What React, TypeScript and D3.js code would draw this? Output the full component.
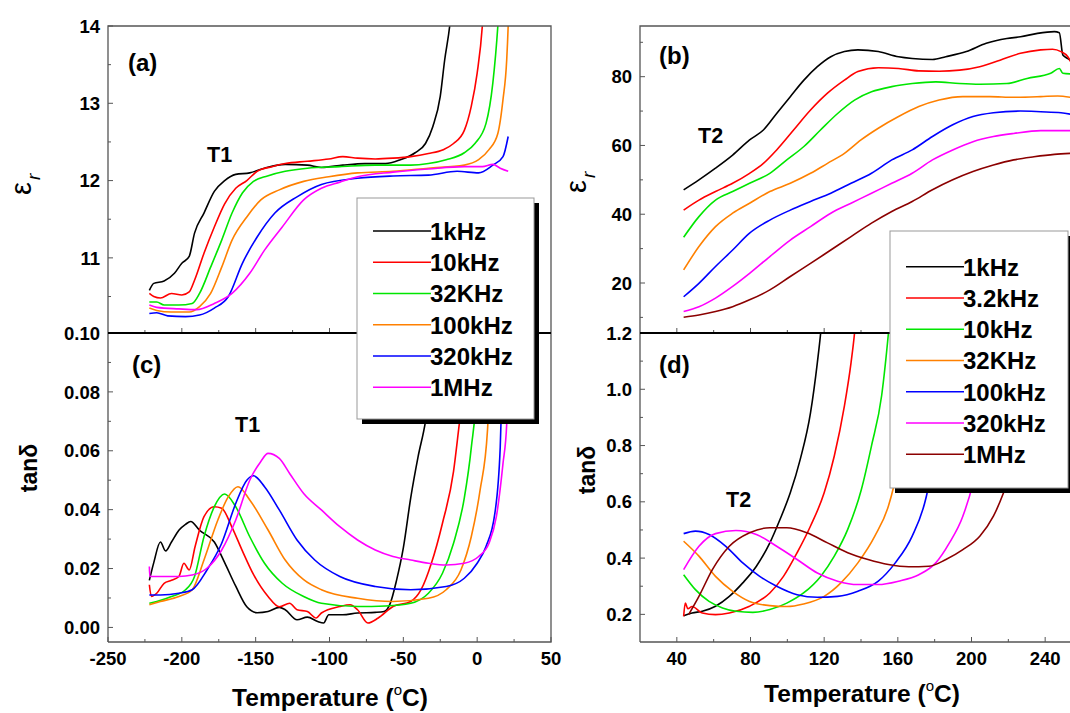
import React from 'react';
import * as d3 from 'd3';

const W = 1070;
const H = 713;
const FONT = '"Liberation Sans", Arial, Helvetica, sans-serif';

// ---- data: [temperature °C, value] ----
// (a) epsilon_r, low temperature
const epsLow1k: [number, number][] = [[-222,10.58],[-219,10.67],[-212,10.7],[-205,10.8],[-200,10.93],[-195,11.02],[-191.4,11.32],[-185,11.58],[-178,11.86],[-171,12.0],[-163.5,12.08],[-154,12.1],[-144,12.16],[-130,12.21],[-115,12.2],[-105.5,12.17],[-91,12.2],[-76,12.22],[-62,12.22],[-52,12.27],[-42,12.36],[-35,12.48],[-30,12.7],[-25,13.09],[-22,13.56],[-18.6,14],[-17,14.3]];
const epsLow10k: [number, number][] = [[-222,10.54],[-219,10.5],[-214.5,10.48],[-207,10.54],[-200,10.52],[-195,10.56],[-191.4,10.71],[-185,11.06],[-178,11.4],[-171,11.7],[-163.5,11.9],[-156,12.0],[-149,12.12],[-139,12.18],[-130,12.22],[-115,12.25],[-100.5,12.28],[-91,12.31],[-81,12.29],[-69,12.28],[-57,12.29],[-45,12.31],[-33,12.35],[-23,12.4],[-16,12.48],[-8.7,12.65],[-4,12.96],[0,13.39],[3.5,14],[4.5,14.3]];
const epsLow32k: [number, number][] = [[-222,10.43],[-217,10.43],[-212,10.39],[-202,10.39],[-193,10.41],[-188,10.54],[-180.5,10.88],[-173,11.23],[-166,11.58],[-159,11.84],[-151.5,11.99],[-142,12.06],[-130,12.12],[-115,12.16],[-93,12.18],[-69,12.2],[-45,12.2],[-33,12.22],[-21,12.27],[-8.7,12.36],[-1.5,12.48],[6,12.74],[10.6,13.26],[14,14],[15,14.3]];
const epsLow100k: [number, number][] = [[-222,10.35],[-217,10.32],[-207,10.3],[-195,10.3],[-188,10.37],[-180.5,10.54],[-173,10.88],[-166,11.23],[-156,11.53],[-146.5,11.75],[-134,11.88],[-117.5,11.99],[-100.5,12.05],[-81,12.1],[-57,12.12],[-33,12.16],[-8.7,12.2],[1,12.27],[8,12.4],[14,12.61],[17.5,13.05],[20,13.56],[21,14],[21.5,14.3]];
const epsLow320k: [number, number][] = [[-222,10.28],[-217,10.29],[-209.6,10.25],[-197.5,10.24],[-188,10.26],[-178,10.35],[-168.5,10.5],[-159,10.93],[-149,11.27],[-137,11.58],[-122,11.79],[-105.5,11.95],[-81,12.03],[-57,12.06],[-33,12.07],[-13.6,12.12],[1,12.1],[10.6,12.2],[17.5,12.31],[21,12.57]];
const epsLow1M: [number, number][] = [[-222,10.39],[-217,10.36],[-202,10.34],[-190,10.33],[-178,10.41],[-166,10.54],[-154,10.8],[-144,11.1],[-132,11.4],[-117.5,11.75],[-105.5,11.9],[-93,11.98],[-81,12.05],[-57,12.11],[-33,12.15],[-8.7,12.18],[3.5,12.18],[10.6,12.21],[15.6,12.16],[21,12.12]];

// (c) tan delta, low temperature
const tanLow1k: [number, number][] = [[-222,0.016],[-219,0.022],[-214.5,0.029],[-211,0.026],[-207,0.029],[-202,0.033],[-197.5,0.035],[-194,0.036],[-188,0.033],[-178,0.029],[-171,0.022],[-163.5,0.014],[-156,0.007],[-149,0.005],[-141.6,0.0054],[-134,0.0068],[-130,0.006],[-122,0.0026],[-115,0.0035],[-108,0.002],[-104,0.0015],[-100.5,0.0043],[-91,0.0043],[-81,0.0049],[-69,0.0051],[-63,0.0054],[-59,0.008],[-54.6,0.016],[-50,0.027],[-45,0.044],[-40,0.058],[-35,0.07],[-31,0.085],[-28,0.1],[-27,0.106]];
const tanLow10k: [number, number][] = [[-222,0.0145],[-220.6,0.0105],[-217,0.0116],[-212,0.015],[-207,0.016],[-202,0.0173],[-198.6,0.0218],[-195,0.0195],[-191,0.0275],[-185,0.0376],[-178,0.041],[-173,0.0405],[-166,0.034],[-159,0.026],[-151.5,0.018],[-141.6,0.0105],[-134,0.007],[-127,0.0082],[-122,0.006],[-115,0.0054],[-109,0.0032],[-105.5,0.0049],[-93,0.0071],[-86,0.0077],[-81,0.006],[-74,0.0015],[-67,0.0032],[-57,0.0071],[-45,0.0088],[-38,0.0128],[-31,0.0218],[-23.5,0.0354],[-16,0.053],[-12.6,0.067],[-8.7,0.084],[-6,0.1],[-5,0.106]];
const tanLow32k: [number, number][] = [[-222,0.0082],[-217,0.0088],[-207,0.0105],[-197.5,0.0128],[-191.4,0.0173],[-185,0.0308],[-178,0.041],[-171,0.0453],[-163.5,0.041],[-154,0.0308],[-144,0.0218],[-132,0.015],[-117.5,0.0105],[-105.5,0.0082],[-81,0.0071],[-62,0.0073],[-45,0.0082],[-33,0.0116],[-23.5,0.0184],[-16,0.0286],[-8.7,0.044],[-4,0.061],[0,0.084],[1,0.1],[1.5,0.106]];
const tanLow100k: [number, number][] = [[-222,0.0077],[-214.5,0.0088],[-202,0.0105],[-193,0.0128],[-185,0.0229],[-175.6,0.0365],[-168.5,0.0444],[-162,0.0478],[-154,0.0433],[-141.6,0.0331],[-130,0.0229],[-117.5,0.0162],[-105.5,0.0128],[-81,0.0099],[-57,0.0088],[-33,0.0099],[-21,0.0128],[-11,0.0195],[-4,0.0308],[2,0.0467],[7,0.067],[9.5,0.1],[10,0.106]];
const tanLow320k: [number, number][] = [[-222,0.011],[-214.5,0.011],[-202,0.0116],[-193,0.0128],[-183,0.0195],[-173,0.0286],[-163.5,0.0421],[-156,0.05],[-151.5,0.0515],[-144,0.0478],[-134,0.0399],[-122,0.0297],[-110,0.0229],[-93,0.0173],[-69,0.0139],[-45,0.0128],[-21,0.0139],[-8.7,0.0167],[0,0.0218],[6,0.0275],[12,0.0388],[15.6,0.061],[18,0.1],[18.5,0.106]];
const tanLow1M: [number, number][] = [[-222,0.0207],[-221.7,0.0173],[-214.5,0.0173],[-202,0.0173],[-193,0.0178],[-183,0.0201],[-173,0.0263],[-163.5,0.0365],[-154,0.05],[-146.6,0.0563],[-141.6,0.0591],[-134,0.0574],[-127,0.0523],[-117.5,0.0455],[-105.5,0.0399],[-93,0.0342],[-81,0.0297],[-69,0.0263],[-57,0.0241],[-45,0.0229],[-33,0.0218],[-21,0.0212],[-8.7,0.0218],[1,0.0241],[8,0.0286],[13,0.0376],[17.5,0.0557],[20,0.069],[21.5,0.1],[22,0.106]];

// (b) epsilon_r, high temperature
const epsHigh1k: [number, number][] = [[43.7,47.1],[52,50],[61,53.4],[70.3,57.2],[79.5,61.6],[87,64.5],[94.2,69.3],[101.6,74.2],[109,79],[116.3,82.9],[123.6,85.8],[131,87.3],[138.3,87.8],[149.4,87.3],[160.4,85.8],[167.8,85.3],[178.8,85],[186,85.8],[197.2,87.3],[208,89.7],[219.2,91.1],[226.6,91.6],[235.8,92.6],[245,93.1],[247.7,92.8],[249.6,86.3],[252.3,85.3],[253.8,84.8]];
const epsHigh3k: [number, number][] = [[43.7,41.2],[52,44.1],[61,46.6],[70.3,49],[79.5,51.9],[87,54.8],[94.2,58.7],[103.4,64.5],[112.6,70.3],[121.8,75.2],[131,79],[138.3,81.5],[149.4,82.6],[160.4,82.4],[171.4,81.7],[182.4,81.6],[193.5,81.9],[204.5,82.9],[215.5,84.8],[226.6,86.8],[237.6,87.8],[244,88],[248.6,87.3],[252.3,85.8],[253.8,84.4]];
const epsHigh10k: [number, number][] = [[43.7,33.3],[52,39.3],[61,44.1],[70.3,46.6],[79.5,49],[90.5,51.9],[99.7,55.8],[109,59.7],[118,64.5],[127.3,69.3],[136.5,73.2],[145.7,75.6],[156.7,77.1],[167.8,78],[180.6,78.5],[193.5,78],[204.5,77.8],[219.2,78],[230.2,79.5],[243,81],[247.7,82.4],[249.6,81],[253.8,80.8]];
const epsHigh32k: [number, number][] = [[43.7,23.8],[52,30.6],[61,36.4],[70.3,40.3],[79.5,43.2],[90.5,46.6],[101.6,49],[112.6,51.9],[121.8,54.8],[131,57.7],[140,61.6],[149.4,65],[160.4,68.4],[171.4,71.3],[182.4,73.2],[195.3,74.2],[210,74.2],[222.9,74],[237.6,74.2],[246.8,74.4],[253.8,74]];
const epsHigh100k: [number, number][] = [[43.7,16],[52,19.9],[61,24.8],[70.3,29.6],[79.5,34.5],[90.5,38.3],[101.6,41.2],[112.6,43.7],[123.6,46.1],[134.6,49],[145.7,51.9],[156.7,55.8],[167.8,58.7],[178.8,62.6],[189.8,66],[200.8,68.4],[211.9,69.5],[226.6,70],[237.6,69.8],[248.6,69.5],[253.8,69.1]];
const epsHigh320k: [number, number][] = [[43.7,11.7],[52,13.1],[61,15.6],[70.3,19],[79.5,22.8],[90.5,27.7],[101.6,32.5],[112.6,36.4],[123.6,40.3],[134.6,43.2],[145.7,46.1],[156.7,49],[167.8,51.9],[178.8,55.8],[189.8,58.7],[200.8,61.1],[211.9,62.6],[222.9,63.5],[237.6,64.3],[253.8,64.3]];
const epsHigh1M: [number, number][] = [[43.7,10.04],[52,10.7],[61,11.7],[70.3,13.1],[79.5,15.1],[90.5,18],[101.6,21.9],[112.6,25.7],[123.6,29.6],[134.6,33.5],[145.7,37.4],[156.7,40.8],[167.8,43.7],[178.8,47.1],[189.8,50],[200.8,52.4],[211.9,54.3],[222.9,55.8],[233.9,56.7],[245,57.4],[253.8,57.7]];

// (d) tan delta, high temperature
const tanHigh1k: [number, number][] = [[43.7,0.195],[48.3,0.205],[53.8,0.211],[61,0.229],[68.5,0.264],[75.8,0.312],[83.2,0.371],[90.5,0.454],[96,0.537],[101.6,0.632],[107,0.751],[112.6,0.917],[116.3,1.095],[118.1,1.2],[118.8,1.25]];
const tanHigh3k: [number, number][] = [[43.7,0.193],[44.6,0.24],[46,0.22],[48.3,0.228],[53.8,0.205],[61,0.199],[68.5,0.205],[79.5,0.229],[90.5,0.276],[97.9,0.335],[105.3,0.419],[112.6,0.514],[120,0.632],[125.5,0.763],[131,0.941],[134.6,1.095],[136.5,1.2],[137.2,1.25]];
const tanHigh10k: [number, number][] = [[43.7,0.341],[50.1,0.288],[57.5,0.246],[64.8,0.223],[72.1,0.211],[81.3,0.207],[90.5,0.217],[99.7,0.24],[108.8,0.276],[118.1,0.335],[125.5,0.407],[132.8,0.502],[140.2,0.644],[145.7,0.799],[151.2,0.977],[154.9,1.2],[155.6,1.25]];
const tanHigh32k: [number, number][] = [[43.7,0.46],[52,0.407],[61,0.335],[70.3,0.282],[79.5,0.246],[90.5,0.231],[99.7,0.228],[108.8,0.237],[120,0.264],[129.1,0.312],[138.3,0.383],[147.5,0.478],[154.9,0.585],[157.6,0.65],[162,0.8],[166,0.98],[169,1.2],[170,1.26]];
const tanHigh100k: [number, number][] = [[43.7,0.487],[50.1,0.496],[57.5,0.484],[66.6,0.442],[75.8,0.383],[85,0.335],[94.2,0.3],[105.3,0.27],[116.3,0.261],[127.3,0.264],[138.3,0.282],[149.4,0.318],[158.6,0.383],[167.8,0.478],[175.1,0.609],[180.6,0.8],[184.3,1.036],[186.1,1.2],[186.8,1.26]];
const tanHigh320k: [number, number][] = [[43.7,0.359],[52,0.442],[61,0.487],[72.1,0.498],[83.2,0.484],[94.2,0.442],[105.3,0.395],[116.3,0.347],[127.3,0.318],[138.3,0.306],[149.4,0.306],[160.4,0.318],[171.4,0.341],[180.6,0.383],[188,0.454],[195.3,0.549],[200.8,0.668],[204.5,0.8],[208.2,1.036],[210,1.2],[210.7,1.26]];
const tanHigh1M: [number, number][] = [[46.4,0.199],[52,0.264],[59.3,0.359],[68.5,0.442],[79.5,0.49],[90.5,0.508],[99.7,0.508],[110.7,0.49],[121.8,0.454],[132.8,0.419],[143.8,0.395],[154.9,0.377],[165.9,0.369],[176.9,0.371],[186.1,0.395],[195.3,0.43],[204.5,0.478],[211.9,0.549],[217.4,0.632],[222.9,0.739],[226.6,0.917],[230.2,1.2],[231,1.26]];

const lowFreqs = ['1kHz', '10kHz', '32KHz', '100kHz', '320kHz', '1MHz'];
const highFreqs = ['1kHz', '3.2kHz', '10kHz', '32KHz', '100kHz', '320kHz', '1MHz'];
const lowColors = ['#000000', '#ff0000', '#00e600', '#ff8000', '#0000ff', '#ff00ff'];
const highColors = ['#000000', '#ff0000', '#00e600', '#ff8000', '#0000ff', '#ff00ff', '#8b0000'];

const epsLow = [epsLow1k, epsLow10k, epsLow32k, epsLow100k, epsLow320k, epsLow1M];
const tanLow = [tanLow1k, tanLow10k, tanLow32k, tanLow100k, tanLow320k, tanLow1M];
const epsHigh = [epsHigh1k, epsHigh3k, epsHigh10k, epsHigh32k, epsHigh100k, epsHigh320k, epsHigh1M];
const tanHigh = [tanHigh1k, tanHigh3k, tanHigh10k, tanHigh32k, tanHigh100k, tanHigh320k, tanHigh1M];

const lowXTicks = [-250, -200, -150, -100, -50, 0, 50];
const highXTicks = [40, 80, 120, 160, 200, 240];
const epsLowTicks = [11, 12, 13, 14];
const tanLowTicks = [0, 0.02, 0.04, 0.06, 0.08, 0.1];
const epsHighTicks = [20, 40, 60, 80];
const tanHighTicks = [0.2, 0.4, 0.6, 0.8, 1.0, 1.2];

// ---- layout ----
const top = 26;
const mid = 333;
const bottom = 642;
const lx0 = 108;
const lx1 = 551;
const rx0 = 640;
const rx1 = 1082;

const xLow = d3.scaleLinear().domain([-250, 50]).range([lx0, lx1]);
const xHigh = d3.scaleLinear().domain([20, 260]).range([rx0, rx1]);
const yEpsLow = d3.scaleLinear().domain([10.028, 14]).range([mid, top]);
const yTanLow = d3.scaleLinear().domain([-0.00495, 0.1]).range([bottom, mid]);
const yEpsHigh = d3.scaleLinear().domain([5.46, 94.74]).range([mid, top]);
const yTanHigh = d3.scaleLinear().domain([0.1018, 1.2]).range([bottom, mid]);

const frameColor = '#555';

function Curves({ series, colors, x, y, clip }: any) {
  const line = d3
    .line<[number, number]>()
    .x((d) => x(d[0]))
    .y((d) => y(d[1]))
    .curve(d3.curveMonotoneX);
  return (
    <g clipPath={`url(#${clip})`}>
      {series.map((s: [number, number][], i: number) => (
        <path key={i} d={line(s) || ''} fill="none" stroke={colors[i]} strokeWidth={1.6} />
      ))}
    </g>
  );
}

function YTicks({ y, x0, major, minor, fmt }: any) {
  return (
    <g>
      {minor.map((v: number) => (
        <line key={'m' + v} x1={x0} x2={x0 + 3} y1={y(v)} y2={y(v)} stroke={frameColor} />
      ))}
      {major.map((v: number) => (
        <g key={v}>
          <line x1={x0} x2={x0 + 5} y1={y(v)} y2={y(v)} stroke={frameColor} />
          <text x={x0 - 8} y={y(v)} dy="0.36em" textAnchor="end" fontSize={18.5} fontWeight="bold">
            {fmt(v)}
          </text>
        </g>
      ))}
    </g>
  );
}

function XTicks({ x, yPos, major, minor, labels }: any) {
  return (
    <g>
      {minor.map((v: number) => (
        <line key={'m' + v} x1={x(v)} x2={x(v)} y1={yPos} y2={yPos - 3} stroke={frameColor} />
      ))}
      {major.map((v: number) => (
        <g key={v}>
          <line x1={x(v)} x2={x(v)} y1={yPos} y2={yPos - 5} stroke={frameColor} />
          {labels && (
            <text x={x(v)} y={yPos + 23} textAnchor="middle" fontSize={18.5} fontWeight="bold">
              {v}
            </text>
          )}
        </g>
      ))}
    </g>
  );
}

function Legend({ x, y, w, h, rowY, labels, colors }: any) {
  return (
    <g>
      <rect x={x + 5} y={y + 5} width={w} height={h} fill="#000" />
      <rect x={x} y={y} width={w} height={h} fill="#fff" stroke="#999" strokeWidth={1} />
      {labels.map((l: string, i: number) => (
        <g key={l}>
          <line x1={x + 16} x2={x + 74} y1={rowY + i * 31.25} y2={rowY + i * 31.25} stroke={colors[i]} strokeWidth={1.6} />
          <text x={x + 73} y={rowY + i * 31.25 + 8.8} fontSize={24} fontWeight="bold">
            {l}
          </text>
        </g>
      ))}
    </g>
  );
}

function EpsLabel({ x, y }: any) {
  return (
    <text transform={`translate(${x},${y}) rotate(-90)`} fontSize={29}>
      ε
      <tspan fontSize={19} fontStyle="italic" dx={2} dy={9}>
        r
      </tspan>
    </text>
  );
}

function TanLabel({ x, y }: any) {
  return (
    <text transform={`translate(${x},${y}) rotate(-90)`} fontSize={23} fontWeight="bold" textAnchor="middle">
      tanδ
    </text>
  );
}

function TempLabel({ x, y }: any) {
  return (
    <text x={x} y={y} textAnchor="middle" fontSize={24.5} fontWeight="bold">
      Temperature (
      <tspan fontSize={15} fontWeight="normal" dy={-11}>
        o
      </tspan>
      <tspan dy={11}>C)</tspan>
    </text>
  );
}

export default function App() {
  const lowMinorX = d3.range(-225, 50, 50);
  const highMinorX = d3.range(60, 260, 40);
  return (
    <svg width={W} height={H} style={{ display: 'block', position: 'absolute', left: 0, top: 0, background: '#fff' }} fontFamily={FONT}>
      <defs>
        <clipPath id="clipA"><rect x={lx0} y={top} width={lx1 - lx0} height={mid - top} /></clipPath>
        <clipPath id="clipC"><rect x={lx0} y={mid} width={lx1 - lx0} height={bottom - mid} /></clipPath>
        <clipPath id="clipB"><rect x={rx0} y={top} width={rx1 - rx0} height={mid - top} /></clipPath>
        <clipPath id="clipD"><rect x={rx0} y={mid} width={rx1 - rx0} height={bottom - mid} /></clipPath>
      </defs>
      <rect width={W} height={H} fill="#fff" />

      {/* curves */}
      <Curves series={epsLow} colors={lowColors} x={xLow} y={yEpsLow} clip="clipA" />
      <Curves series={tanLow} colors={lowColors} x={xLow} y={yTanLow} clip="clipC" />
      <Curves series={epsHigh} colors={highColors} x={xHigh} y={yEpsHigh} clip="clipB" />
      <Curves series={tanHigh} colors={highColors} x={xHigh} y={yTanHigh} clip="clipD" />

      {/* frames */}
      <path d={`M${lx0},${bottom}V${top}H${lx1}V${bottom}H${lx0}`} fill="none" stroke={frameColor} strokeWidth={1.3} />
      <path d={`M${rx0},${bottom}V${top}H${rx1}V${bottom}H${rx0}`} fill="none" stroke={frameColor} strokeWidth={1.3} />

      {/* axes ticks */}
      <YTicks y={yEpsLow} x0={lx0} major={epsLowTicks} minor={[10.5, 11.5, 12.5, 13.5]} fmt={(v: number) => v} />
      <YTicks y={yTanLow} x0={lx0} major={tanLowTicks} minor={[0.01, 0.03, 0.05, 0.07, 0.09]} fmt={d3.format('.2f')} />
      <YTicks y={yEpsHigh} x0={rx0} major={epsHighTicks} minor={[10, 30, 50, 70, 90]} fmt={(v: number) => v} />
      <YTicks y={yTanHigh} x0={rx0} major={tanHighTicks} minor={[0.3, 0.5, 0.7, 0.9, 1.1]} fmt={d3.format('.1f')} />
      <XTicks x={xLow} yPos={mid} major={lowXTicks.slice(1, -1)} minor={lowMinorX} labels={false} />
      <XTicks x={xLow} yPos={bottom} major={lowXTicks} minor={lowMinorX} labels={true} />
      <XTicks x={xHigh} yPos={mid} major={highXTicks} minor={highMinorX} labels={false} />
      <XTicks x={xHigh} yPos={bottom} major={highXTicks} minor={highMinorX} labels={true} />

      {/* panel dividers */}
      <line x1={lx0} x2={lx1} y1={mid} y2={mid} stroke="#000" strokeWidth={1.8} />
      <line x1={rx0} x2={rx1} y1={mid} y2={mid} stroke="#000" strokeWidth={1.8} />

      {/* annotations */}
      <g fontSize={24} fontWeight="bold">
        <text x={128} y={71}>(a)</text>
        <text x={132} y={373}>(c)</text>
        <text x={659} y={64}>(b)</text>
        <text x={659} y={373}>(d)</text>
      </g>
      <g fontSize={21.5} fontWeight="bold">
        <text x={207} y={162}>T1</text>
        <text x={235} y={432}>T1</text>
        <text x={698} y={143}>T2</text>
        <text x={726} y={507}>T2</text>
      </g>

      <EpsLabel x={31} y={195} />
      <TanLabel x={37} y={468} />
      <EpsLabel x={586} y={193} />
      <TanLabel x={595} y={470} />

      <TempLabel x={330} y={706} />
      <TempLabel x={862} y={702} />

      <Legend x={357} y={198} w={177} h={221} rowY={231} labels={lowFreqs} colors={lowColors} />
      <Legend x={890} y={231} w={178} h={257} rowY={266.7} labels={highFreqs} colors={highColors} />
    </svg>
  );
}
